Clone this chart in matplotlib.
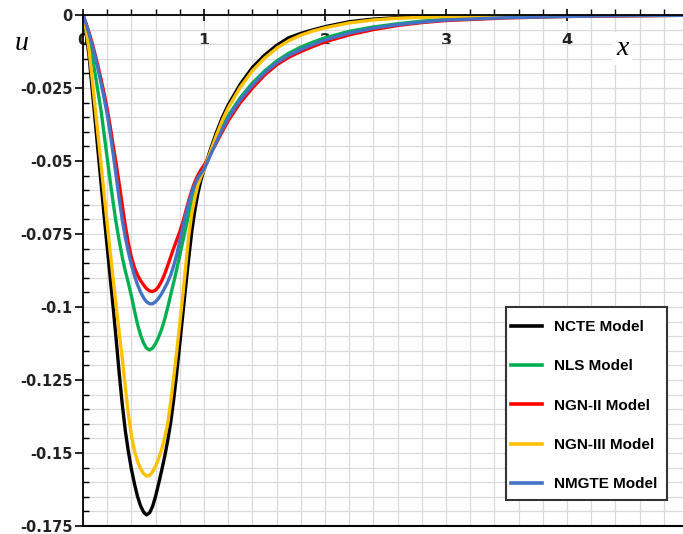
import numpy as np
import matplotlib
matplotlib.use("Agg")
import matplotlib.pyplot as plt
from matplotlib.ticker import MultipleLocator, FuncFormatter
from matplotlib.patches import Rectangle

plt.rcParams['axes.unicode_minus'] = False

# valeurs
x = [0, 0.025, 0.05, 0.075, 0.1, 0.125, 0.15, 0.175, 0.2, 0.225, 0.25, 0.275, 0.3, 0.325,
     0.35, 0.375, 0.4, 0.425, 0.45, 0.475, 0.5, 0.525, 0.55, 0.575, 0.6, 0.625, 0.65, 0.675,
     0.7, 0.725, 0.75, 0.775, 0.8, 0.825, 0.85, 0.875, 0.9, 0.925, 0.95, 0.975, 1.0,
     1.05, 1.1, 1.15, 1.2, 1.3, 1.4, 1.5, 1.6, 1.7, 1.8, 1.9, 2.0,
     2.2, 2.4, 2.6, 2.8, 3.0, 3.5, 4.0, 4.5, 5.0]

u_ncte = [0, -0.006, -0.014, -0.025, -0.036, -0.047, -0.058, -0.069, -0.0795, -0.090,
          -0.1005, -0.1115, -0.123, -0.1335, -0.1425, -0.1495, -0.1555, -0.1605, -0.1648, -0.1680,
          -0.1702, -0.1712, -0.1705, -0.1683, -0.1648, -0.1605, -0.1560, -0.1512, -0.1458, -0.1395,
          -0.1315, -0.1225, -0.1125, -0.1025, -0.0925, -0.0828, -0.0738, -0.0668, -0.0610, -0.0565,
          -0.0530, -0.0465, -0.0405, -0.0352, -0.0308, -0.0237, -0.0180, -0.0138, -0.0104, -0.0078,
          -0.0063, -0.0051, -0.0040, -0.0023, -0.0014, -0.0009, -0.0006, -0.0004, -0.0002, -0.0001,
          -0.00005, 0]

u_nls = [0, -0.004, -0.0085, -0.014, -0.020, -0.0265, -0.033, -0.041, -0.049, -0.057,
         -0.0645, -0.0715, -0.0775, -0.0830, -0.0877, -0.0918, -0.0962, -0.1012, -0.1058, -0.1095,
         -0.1123, -0.1141, -0.1147, -0.1141, -0.1125, -0.1103, -0.1076, -0.1042, -0.1002, -0.0958,
         -0.0915, -0.0870, -0.0822, -0.0775, -0.0727, -0.0682, -0.0642, -0.0607, -0.0576, -0.0551,
         -0.0530, -0.0477, -0.0428, -0.0383, -0.0345, -0.0283, -0.0233, -0.0192, -0.0158, -0.0131,
         -0.0110, -0.0093, -0.0078, -0.0056, -0.0041, -0.0030, -0.0021, -0.0015, -0.0008, -0.0004,
         -0.0002, -0.0001]

u_ngn2 = [0, -0.0028, -0.006, -0.0095, -0.0135, -0.0177, -0.0222, -0.0270, -0.0322, -0.0382,
          -0.0448, -0.0512, -0.0580, -0.0652, -0.0722, -0.0782, -0.0830, -0.0865, -0.0890, -0.0909,
          -0.0924, -0.0937, -0.0945, -0.0947, -0.0942, -0.0930, -0.0911, -0.0887, -0.0858, -0.0828,
          -0.0798, -0.0770, -0.0742, -0.0710, -0.0672, -0.0634, -0.0600, -0.0571, -0.0548, -0.0530,
          -0.0515, -0.0478, -0.0440, -0.0400, -0.0362, -0.0300, -0.0250, -0.0206, -0.0171, -0.0145,
          -0.0125, -0.0108, -0.0092, -0.0068, -0.0050, -0.0036, -0.0026, -0.0019, -0.0010, -0.0005,
          -0.0003, -0.0001]

u_ngn3 = [0, -0.005, -0.012, -0.0215, -0.0315, -0.0415, -0.0515, -0.0615, -0.0715, -0.0812,
          -0.0908, -0.1000, -0.1090, -0.1180, -0.1275, -0.1368, -0.1440, -0.1492, -0.1528, -0.1553,
          -0.1570, -0.1579, -0.1577, -0.1564, -0.1545, -0.1520, -0.1488, -0.1448, -0.1400, -0.1325,
          -0.1240, -0.1150, -0.1055, -0.0960, -0.0855, -0.0752, -0.0678, -0.0625, -0.0582, -0.0553,
          -0.0530, -0.0472, -0.0415, -0.0362, -0.0318, -0.0247, -0.0191, -0.0148, -0.0114, -0.0088,
          -0.0069, -0.0055, -0.0044, -0.0027, -0.0017, -0.0011, -0.0008, -0.0005, -0.0003, -0.0002,
          -0.0001, 0]

u_nmgte = [0, -0.003, -0.0065, -0.0102, -0.0143, -0.0187, -0.0235, -0.0285, -0.0340, -0.0405,
           -0.0478, -0.0555, -0.0632, -0.0703, -0.0762, -0.0812, -0.0855, -0.0892, -0.0923, -0.0948,
           -0.0968, -0.0982, -0.0989, -0.0989, -0.0982, -0.0970, -0.0954, -0.0935, -0.0915, -0.0890,
           -0.0858, -0.0820, -0.0775, -0.0728, -0.0682, -0.0641, -0.0607, -0.0579, -0.0558, -0.0542,
           -0.0528, -0.0483, -0.0437, -0.0392, -0.0353, -0.0290, -0.0240, -0.0198, -0.0164, -0.0138,
           -0.0118, -0.0101, -0.0085, -0.0062, -0.0045, -0.0033, -0.0024, -0.0017, -0.0009, -0.0005,
           -0.0002, -0.0001]

series = [("NCTE Model", u_ncte, "#000000"),
          ("NLS Model", u_nls, "#00b050"),
          ("NGN-II Model", u_ngn2, "#ff0000"),
          ("NGN-III Model", u_ngn3, "#ffc000"),
          ("NMGTE Model", u_nmgte, "#4472c4")]

W, H = 683, 534
fig = plt.figure(figsize=(W/100, H/100), dpi=100)
ax = fig.add_axes([83/W, 8/H, 600/W, 511/H])

for nom, u, c in series:
    ax.plot(x, u, color=c, lw=2.4, label=nom, solid_joinstyle='round')

ax.set_xlim(0, 600/121)
ax.set_ylim(-0.175, 0)

ax.spines['top'].set_visible(False)
ax.spines['right'].set_visible(False)
ax.spines['bottom'].set_position(('data', 0))
ax.spines['left'].set_linewidth(1.3)
ax.spines['bottom'].set_linewidth(1.3)
ax.axhline(-0.175, color='black', lw=1.5, clip_on=False)

ax.xaxis.set_major_locator(MultipleLocator(1))
ax.xaxis.set_minor_locator(MultipleLocator(0.2))
ax.yaxis.set_major_locator(MultipleLocator(0.025))
ax.yaxis.set_minor_locator(MultipleLocator(0.005))
ax.yaxis.set_major_formatter(FuncFormatter(lambda v, p: "0" if abs(v) < 1e-9 else "%g" % v))
ax.xaxis.set_major_formatter(FuncFormatter(lambda v, p: "%d" % round(v)))

ax.tick_params(axis='x', which='major', direction='inout', length=8, width=1.2, pad=9, labelsize=11.5)
ax.tick_params(axis='x', which='minor', direction='in', length=4, width=1.0)
ax.tick_params(axis='y', which='major', direction='out', length=6, width=1.2, pad=1.5, labelsize=10.5)
ax.tick_params(axis='y', which='minor', direction='in', length=4, width=1.0)
for t in ax.get_xticklabels() + ax.get_yticklabels():
    t.set_fontweight('bold')
    t.set_color('#222222')

ax.grid(which='both', color='#d9d9d9', lw=0.9)
ax.set_axisbelow(True)

ax.text(4.455, -0.0115, "x", fontsize=20, family='Liberation Serif', style='italic',
        ha='center', va='center', bbox=dict(facecolor='white', edgecolor='none', pad=3))
fig.text(22/W, 1 - 44/H, "u", fontsize=20, family='Liberation Serif', style='italic',
         ha='center', va='center')

# cadre de la légende
cadre = Rectangle((506/W, 1 - 500/H), 161/W, 193/H, transform=fig.transFigure,
                  facecolor='white', edgecolor='#333333', lw=1.5, zorder=5, clip_on=False)
ax.add_patch(cadre)
leg = ax.legend(loc='upper left', bbox_to_anchor=(511/W, 1 - 320/H),
                bbox_transform=fig.transFigure, frameon=False,
                prop={'family': 'Liberation Sans', 'weight': 'bold', 'size': 11},
                handlelength=2.0, handletextpad=0.8, labelspacing=1.66, borderpad=0,
                borderaxespad=0)
leg.set_zorder(6)
for h in leg.get_lines():
    h.set_linewidth(2.6)

fig.savefig("out.png", dpi=100)
